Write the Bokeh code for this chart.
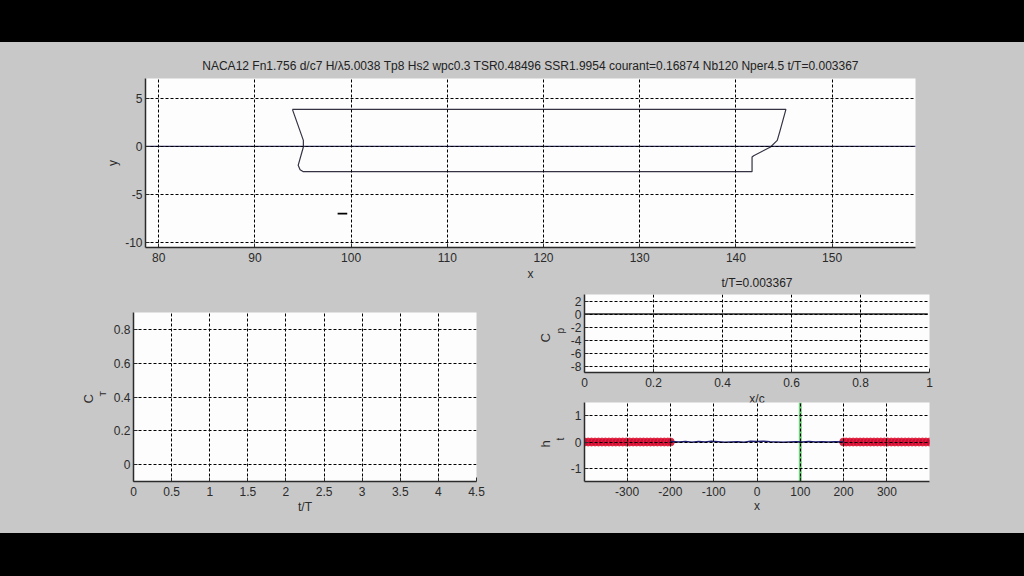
from bokeh.plotting import figure
from bokeh.layouts import column, row
from bokeh.models import Spacer, Title, FixedTicker, Range1d
from bokeh.embed import file_html
from bokeh.resources import INLINE

TITLE = "NACA12 Fn1.756 d/c7 H/\u03bb5.0038 Tp8 Hs2 wpc0.3 TSR0.48496 SSR1.9954 courant=0.16874 Nb120 Nper4.5 t/T=0.003367"
SUBTITLE = "t/T=0.003367"

hull_x = [93.9, 95.04, 95.04, 94.5, 94.7, 95.04, 141.68, 141.68, 141.85, 143.6, 144.3, 144.6, 145.2, 93.9]
hull_y = [3.84, 0.62, -0.07, -1.97, -2.42, -2.63, -2.63, -1.11, -0.97, -0.07, 0.62, 1.66, 3.84, 3.84]
water_x = [78.6, 158.7]
water_y = [0, 0]
mark_x = [98.6, 99.6]
mark_y = [-6.98, -6.98]

cp_x = [0, 0.995]
cp_y = [0, 0]

wave_x = [-200, -180, -165, -150, -135, -120, -105, -90, -75, -60, -45, -30, -15, 0, 15, 30, 45, 60, 75, 90, 105, 120, 135, 150, 165, 180, 200]
wave_y = [0.02, 0.0, 0.02, -0.01, 0.02, 0.0, 0.03, 0.01, -0.01, 0.0, 0.01, -0.01, 0.03, 0.02, 0.03, 0.01, 0.0, -0.01, 0.0, 0.01, 0.0, 0.02, 0.0, 0.01, 0.0, 0.01, 0.0]
red_left_x = [-398, -390, -382, -374, -366, -358, -350, -342, -334, -326, -318, -310, -302, -294, -286, -278, -270, -262, -254, -246, -238, -230, -222, -214, -206, -200]
red_right_x = [200, 206, 214, 222, 230, 238, 246, 254, 262, 270, 278, 286, 294, 302, 310, 318, 326, 334, 342, 350, 358, 366, 374, 382, 390, 398]
red_left_y = [0.0] * len(red_left_x)
red_right_y = [0.0] * len(red_right_x)
green_x = [100, 100]
green_y = [-1.5, 1.5]

GRAY = "#c8c8c8"
FONT = "Liberation Sans"
INK = "#2b2b2b"


def panel(w, h, left, right, top, bottom, xr, yr, xticks, yticks, xlabel=None, ylabel=None,
          title=None, title_standoff=8, label_standoff=4, margin=None):
    p = figure(width=w, height=h, x_range=Range1d(*xr), y_range=Range1d(*yr),
               output_backend="svg", toolbar_location=None,
               min_border_left=left, min_border_right=right, min_border_top=top, min_border_bottom=bottom,
               background_fill_color="#fdfdfd", border_fill_color=None, outline_line_color=None)
    if margin:
        p.margin = margin
    for ax, ticks, lab, standoff in ((p.xaxis[0], xticks, xlabel, 5), (p.yaxis[0], yticks, ylabel, 3)):
        ax.ticker = FixedTicker(ticks=ticks)
        ax.major_label_overrides = {t: str(t) for t in ticks}
        ax.axis_line_color = INK
        ax.axis_line_width = 1.5
        ax.major_tick_line_color = INK
        ax.major_tick_in = 4
        ax.major_tick_out = 0
        ax.minor_tick_line_color = None
        ax.major_label_text_font = FONT
        ax.major_label_text_font_size = "12px"
        ax.major_label_text_color = INK
        ax.major_label_standoff = standoff
        if lab:
            ax.axis_label = lab
            ax.axis_label_text_font = FONT
            ax.axis_label_text_font_size = "12px"
            ax.axis_label_text_font_style = "normal"
            ax.axis_label_text_color = INK
            ax.axis_label_standoff = label_standoff
    p.grid.grid_line_color = "black"
    p.grid.grid_line_dash = "3 2"
    p.grid.grid_line_width = 1
    p.grid.level = "glyph"
    if title:
        p.title.text = title
        p.title.text_font = FONT
        p.title.text_font_size = "12px"
        p.title.text_font_style = "normal"
        p.title.text_color = "#222222"
        p.title.align = "center"
        p.title.standoff = title_standoff
    return p


def side_label(p, text, size, offset, standoff):
    p.add_layout(Title(text=text, text_font=FONT, text_font_size=size, text_font_style="normal",
                       text_color=INK, align="left", offset=offset, standoff=standoff), "left")


top = panel(1024, 241, 145, 109, 36, 36, (78.63, 158.67), (-10.5, 7.04),
            [80, 90, 100, 110, 120, 130, 140, 150], [-10, -5, 0, 5], "x", "y", TITLE,
            title_standoff=12, label_standoff=2)
top.line(water_x, water_y, line_color="#2a2a66", line_width=1.2)
top.line(hull_x, hull_y, line_color="#333344", line_width=1.2)
top.line(mark_x, mark_y, line_color="black", line_width=1.6)

left = panel(520, 265, 133, 44, 44, 52, (0, 4.5), (-0.1, 0.9),
             [0, 0.5, 1, 1.5, 2, 2.5, 3, 3.5, 4, 4.5], [0, 0.2, 0.4, 0.6, 0.8], "t/T", label_standoff=1)
side_label(left, "T", "9px", 85, 6)
side_label(left, "C", "13px", 78, -7)

cp = panel(504, 140, 64, 95, 26, 35, (0, 1), (-9, 3),
           [0, 0.2, 0.4, 0.6, 0.8, 1], [-8, -6, -4, -2, 0, 2], "x/c", None, SUBTITLE,
           title_standoff=10, label_standoff=2)
cp.line(cp_x, cp_y, line_color="#222222", line_width=1.3)
side_label(cp, "p", "10px", 39, 3)
side_label(cp, "C", "13px", 30, -3)

ht = panel(504, 131, 64, 95, 0, 52, (-398.3, 398.3), (-1.5, 1.5),
           [-300, -200, -100, 0, 100, 200, 300], [-1, 0, 1], "x", label_standoff=0, margin=(-6, 0, 0, 0))
ht.line(green_x, green_y, line_color="#4fc35a", line_width=3, line_alpha=0.8)
ht.scatter(red_left_x, red_left_y, size=8, fill_color="#cc0a35", line_color="#e8283f", alpha=0.9)
ht.scatter(red_right_x, red_right_y, size=8, fill_color="#cc0a35", line_color="#e8283f", alpha=0.9)
ht.line(wave_x, wave_y, line_color="#1a1a6e", line_width=1.5)
side_label(ht, "t", "10px", 41, 4)
side_label(ht, "h", "13px", 34, -4)

right_col = column(cp, ht, spacing=0)
bottom_row = row(left, right_col, spacing=0, margin=(-15, 0, 0, 0))
top_bar = Spacer(width=1024, height=42, styles={"background": "#000000"})
foot_bar = Spacer(width=1024, height=43, styles={"background": "#000000"})
page = column(top_bar, top, bottom_row, foot_bar, spacing=0, styles={"background": GRAY})

open("out.html", "w").write(file_html(page, INLINE))
